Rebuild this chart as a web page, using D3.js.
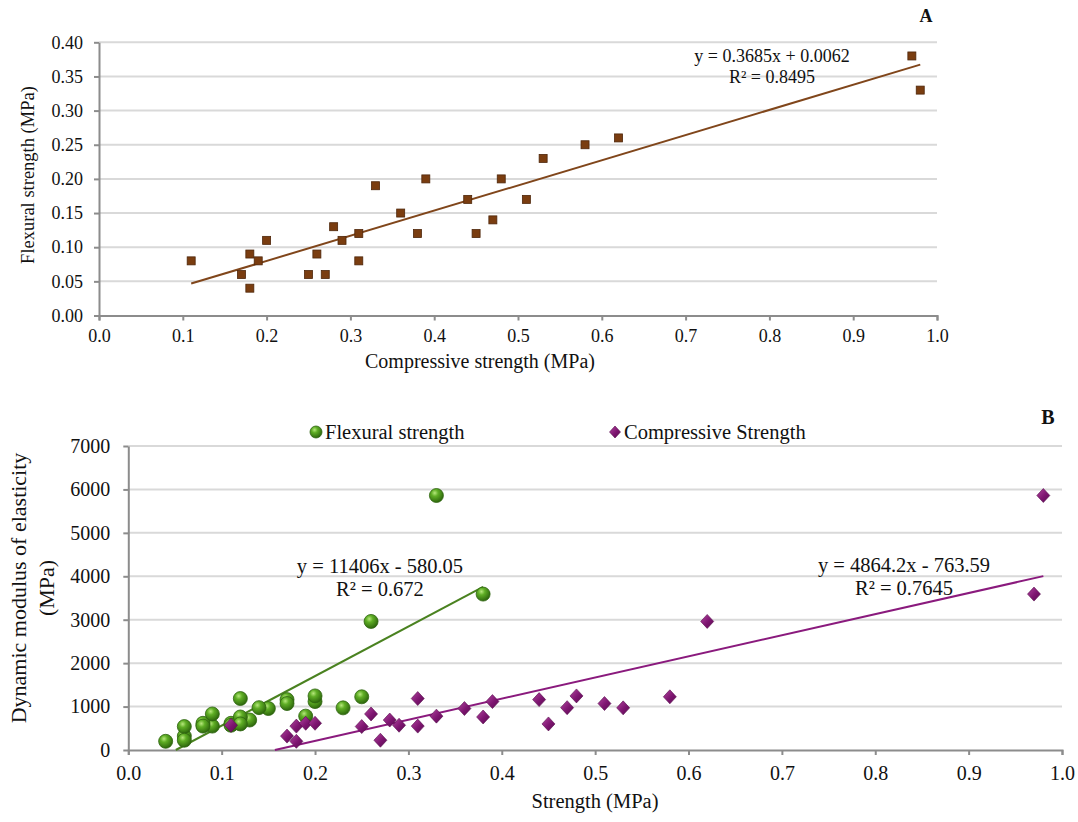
<!DOCTYPE html>
<html>
<head>
<meta charset="utf-8">
<script src="https://cdn.jsdelivr.net/npm/d3@7"></script>
<style>
  body { margin: 0; background: #fff; }
  svg text, svg tspan { font-family: "Liberation Serif", "DejaVu Serif", serif !important; fill: #111; }
</style>
</head>
<body>
<div id="chart"></div>
<script>
// data: one row per specimen (same order in every array)
var compressive = [0.11, 0.17, 0.18, 0.18, 0.19, 0.20, 0.25, 0.26, 0.27, 0.28, 0.29, 0.31, 0.31, 0.33,
                   0.36, 0.38, 0.39, 0.44, 0.45, 0.47, 0.48, 0.51, 0.53, 0.58, 0.62, 0.97, 0.98];
var flexural    = [0.08, 0.06, 0.09, 0.04, 0.08, 0.11, 0.06, 0.09, 0.06, 0.13, 0.11, 0.12, 0.08, 0.19,
                   0.15, 0.12, 0.20, 0.17, 0.12, 0.14, 0.20, 0.17, 0.23, 0.25, 0.26, 0.38, 0.33];
var modulus     = [570, 320, 550, 200, 615, 615, 540, 830, 225, 690, 570, 1185, 550, 780,
                   955, 760, 1115, 1160, 600, 975, 1245, 1070, 970, 1225, 2960, 3590, 5860];

// trendline coefficients [slope, intercept]
var trendA = [0.3685, 0.0062];
var trendFlex = [11406, -580.05];
var trendComp = [4864.2, -763.59];

var eqA = ["y = 0.3685x + 0.0062", "R\u00b2 = 0.8495"];
var eqFlex = ["y = 11406x - 580.05", "R\u00b2 = 0.672"];
var eqComp = ["y = 4864.2x - 763.59", "R\u00b2 = 0.7645"];

var xTicks = [0.0, 0.1, 0.2, 0.3, 0.4, 0.5, 0.6, 0.7, 0.8, 0.9, 1.0];
var yTicksA = [0.00, 0.05, 0.10, 0.15, 0.20, 0.25, 0.30, 0.35, 0.40];
var yTicksB = [0, 1000, 2000, 3000, 4000, 5000, 6000, 7000];

var width = 1078, height = 822;
var serif = '"Liberation Serif", "DejaVu Serif", serif';

var svg = d3.select("#chart").append("svg")
  .attr("width", width)
  .attr("height", height)
  .attr("font-family", serif);

var defs = svg.append("defs");

var gGreen = defs.append("radialGradient").attr("id", "ballGreen")
  .attr("cx", "38%").attr("cy", "32%").attr("r", "70%");
gGreen.append("stop").attr("offset", "0%").attr("stop-color", "#b6e77c");
gGreen.append("stop").attr("offset", "35%").attr("stop-color", "#5fae25");
gGreen.append("stop").attr("offset", "100%").attr("stop-color", "#2b640b");

var gPurple = defs.append("linearGradient").attr("id", "diaPurple")
  .attr("x1", "0%").attr("y1", "0%").attr("x2", "100%").attr("y2", "100%");
gPurple.append("stop").attr("offset", "0%").attr("stop-color", "#b2459f");
gPurple.append("stop").attr("offset", "55%").attr("stop-color", "#7d1570");
gPurple.append("stop").attr("offset", "100%").attr("stop-color", "#5a0a50");

var gridColor = "#d9d9d9", axisColor = "#8c8c8c";

function styleAxis(g, size) {
  g.attr("font-family", serif);
  g.select(".domain").attr("stroke", axisColor).attr("stroke-width", 2);
  g.selectAll(".tick line").attr("stroke", axisColor).attr("stroke-width", 2);
  g.selectAll(".tick text").style("font-size", size + "px").style("font-family", serif).attr("fill", "#111");
}

// ---------- chart A ----------
var xA = d3.scaleLinear().domain([0, 1]).range([99, 937]);
var yA = d3.scaleLinear().domain([0, 0.4]).range([315.5, 42.3]);

svg.append("g").selectAll("line")
  .data(yTicksA.slice(1))
  .join("line")
    .attr("x1", xA(0)).attr("x2", xA(1))
    .attr("y1", d => yA(d)).attr("y2", d => yA(d))
    .attr("stroke", gridColor).attr("stroke-width", 2);

svg.append("g")
  .attr("transform", `translate(0, ${yA(0)})`)
  .call(d3.axisBottom(xA).tickValues(xTicks).tickFormat(d3.format(".1f")).tickSize(5).tickSizeOuter(5).tickPadding(9))
  .call(g => styleAxis(g, 18));

svg.append("g")
  .attr("transform", `translate(${xA(0)}, 0)`)
  .call(d3.axisLeft(yA).tickValues(yTicksA).tickFormat(d3.format(".2f")).tickSize(5).tickSizeOuter(0).tickPadding(11))
  .call(g => styleAxis(g, 18));

// trendline A
var xsA = d3.extent(compressive);
svg.append("line")
  .attr("x1", xA(xsA[0])).attr("y1", yA(trendA[0] * xsA[0] + trendA[1]))
  .attr("x2", xA(xsA[1])).attr("y2", yA(trendA[0] * xsA[1] + trendA[1]))
  .attr("stroke", "#80461b").attr("stroke-width", 2);

svg.append("g").selectAll("rect")
  .data(compressive)
  .join("rect")
    .attr("x", (d, i) => xA(d) - 4)
    .attr("y", (d, i) => yA(flexural[i]) - 4)
    .attr("width", 8).attr("height", 8)
    .attr("fill", "#7a3d10")
    .attr("stroke", "#4e260a").attr("stroke-width", 0.8);

svg.append("g").selectAll("text")
  .data(eqA)
  .join("text")
    .attr("x", 772).attr("y", (d, i) => 62 + i * 21)
    .attr("text-anchor", "middle")
    .style("font-size", "18px")
    .text(d => d);

svg.append("text")
  .attr("x", 926).attr("y", 22)
  .attr("text-anchor", "middle")
  .style("font-size", "18px").style("font-weight", "bold")
  .text("A");

svg.append("text")
  .attr("x", 480).attr("y", 368)
  .attr("text-anchor", "middle")
  .style("font-size", "20px")
  .text("Compressive strength (MPa)");

svg.append("text")
  .attr("transform", "translate(34, 175) rotate(-90)")
  .attr("text-anchor", "middle")
  .style("font-size", "18.5px")
  .text("Flexural strength (MPa)");

// ---------- chart B ----------
var xB = d3.scaleLinear().domain([0, 1]).range([128.3, 1062]);
var yB = d3.scaleLinear().domain([0, 7000]).range([750, 446]);

svg.append("g").selectAll("line")
  .data(yTicksB.slice(1))
  .join("line")
    .attr("x1", xB(0)).attr("x2", xB(1))
    .attr("y1", d => yB(d)).attr("y2", d => yB(d))
    .attr("stroke", gridColor).attr("stroke-width", 2);

svg.append("g")
  .attr("transform", `translate(0, ${yB(0)})`)
  .call(d3.axisBottom(xB).tickValues(xTicks).tickFormat(d3.format(".1f")).tickSize(5).tickSizeOuter(5).tickPadding(11))
  .call(g => styleAxis(g, 20));

svg.append("g")
  .attr("transform", `translate(${xB(0)}, 0)`)
  .call(d3.axisLeft(yB).tickValues(yTicksB).tickFormat(d3.format("d")).tickSize(5).tickSizeOuter(0).tickPadding(13))
  .call(g => styleAxis(g, 20));

// trendlines B, clipped at y = 0 like the original
function trendSegment(xs, coef) {
  var x0 = Math.max(d3.min(xs), -coef[1] / coef[0]);
  var x1 = d3.max(xs);
  return [[x0, coef[0] * x0 + coef[1]], [x1, coef[0] * x1 + coef[1]]];
}
var segFlex = trendSegment(flexural, trendFlex);
var segComp = trendSegment(compressive, trendComp);

svg.append("line")
  .attr("x1", xB(segFlex[0][0])).attr("y1", yB(segFlex[0][1]))
  .attr("x2", xB(segFlex[1][0])).attr("y2", yB(segFlex[1][1]))
  .attr("stroke", "#4a8220").attr("stroke-width", 2);

svg.append("line")
  .attr("x1", xB(segComp[0][0])).attr("y1", yB(segComp[0][1]))
  .attr("x2", xB(segComp[1][0])).attr("y2", yB(segComp[1][1]))
  .attr("stroke", "#8a1a7d").attr("stroke-width", 2);

var diamond = "M0,-7L6.5,0L0,7L-6.5,0Z";

svg.append("g").selectAll("circle")
  .data(flexural)
  .join("circle")
    .attr("cx", d => xB(d))
    .attr("cy", (d, i) => yB(modulus[i]))
    .attr("r", 7)
    .attr("fill", "url(#ballGreen)")
    .attr("stroke", "#2f6410").attr("stroke-width", 0.8);

svg.append("g").selectAll("path")
  .data(compressive)
  .join("path")
    .attr("d", diamond)
    .attr("transform", (d, i) => `translate(${xB(d)}, ${yB(modulus[i])})`)
    .attr("fill", "url(#diaPurple)")
    .attr("stroke", "#560a4c").attr("stroke-width", 0.6);

svg.append("g").selectAll("text")
  .data(eqFlex)
  .join("text")
    .attr("x", 380).attr("y", (d, i) => 573 + i * 23)
    .attr("text-anchor", "middle")
    .style("font-size", "20.5px")
    .text(d => d);

svg.append("g").selectAll("text")
  .data(eqComp)
  .join("text")
    .attr("x", 904).attr("y", (d, i) => 572 + i * 23)
    .attr("text-anchor", "middle")
    .style("font-size", "20.5px")
    .text(d => d);

// legend
svg.append("circle")
  .attr("cx", 316).attr("cy", 432).attr("r", 6)
  .attr("fill", "url(#ballGreen)").attr("stroke", "#2f6410").attr("stroke-width", 0.8);
svg.append("text")
  .attr("x", 325).attr("y", 439)
  .style("font-size", "20.5px")
  .text("Flexural strength");

svg.append("path")
  .attr("d", "M0,-6L5.5,0L0,6L-5.5,0Z")
  .attr("transform", "translate(615, 432)")
  .attr("fill", "url(#diaPurple)").attr("stroke", "#560a4c").attr("stroke-width", 0.6);
svg.append("text")
  .attr("x", 624).attr("y", 439)
  .style("font-size", "20.5px")
  .text("Compressive Strength");

svg.append("text")
  .attr("x", 1048).attr("y", 424)
  .attr("text-anchor", "middle")
  .style("font-size", "20px").style("font-weight", "bold")
  .text("B");

svg.append("text")
  .attr("x", 595).attr("y", 808)
  .attr("text-anchor", "middle")
  .style("font-size", "20.5px")
  .text("Strength (MPa)");

svg.append("text")
  .attr("transform", "translate(0, 588) rotate(-90)")
  .attr("text-anchor", "middle")
  .selectAll("tspan")
  .data(["Dynamic modulus of elasticity", "(MPa)"])
  .join("tspan")
    .attr("x", 0)
    .attr("y", (d, i) => 26 + i * 28)
    .style("font-size", "22px")
    .text(d => d);
</script>
</body>
</html>
